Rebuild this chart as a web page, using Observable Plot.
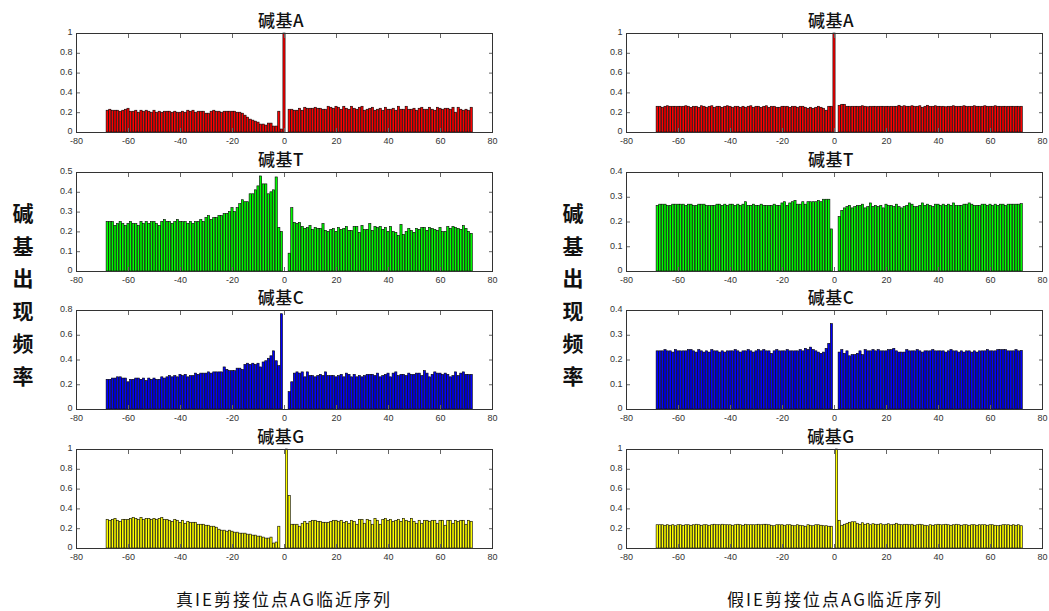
<!DOCTYPE html>
<html><head><meta charset="utf-8">
<script src="https://cdn.jsdelivr.net/npm/d3@7"></script>
<script src="https://cdn.jsdelivr.net/npm/@observablehq/plot@0.6"></script>
<style>
body{margin:0;background:#fff;}
#root{position:relative;width:1049px;height:611px;overflow:hidden;background:#fff;}
.panel{position:absolute;}
.title{position:absolute;font-family:"Noto Sans CJK SC",sans-serif;font-size:17px;font-weight:500;letter-spacing:0.5px;color:#111;transform:translate(-50%,-50%);white-space:nowrap;line-height:1;}
.ylab{position:absolute;font-family:"Noto Sans CJK SC",sans-serif;font-size:21px;font-weight:bold;color:#111;width:24px;text-align:center;line-height:32.6px;}
.xlab{position:absolute;font-family:"Noto Sans CJK SC",sans-serif;font-size:17px;letter-spacing:2px;color:#111;transform:translate(-50%,-50%);white-space:nowrap;line-height:1;}
</style></head>
<body><div id="root"></div>
<script>
// positions -68 .. 72 (one bar per position)
const positions = d3.range(-68, 73);
const xTicks = [-80,-60,-40,-20,0,20,40,60,80];
const ticks01 = [0,0.2,0.4,0.6,0.8,1];
const ticksTrueT = [0,0.1,0.2,0.3,0.4,0.5];
const ticksTrueC = [0,0.2,0.4,0.6,0.8];
const ticksFalse04 = [0,0.1,0.2,0.3,0.4];
const baseNames = ["碱基A","碱基T","碱基C","碱基G"];
const baseColors = ["#ff0000","#00ff00","#0000ff","#ffff00"];
const yLabel = "碱基出现频率";
const xLabels = ["真IE剪接位点AG临近序列","假IE剪接位点AG临近序列"];

const trueA = [
0.22,0.23,0.22,0.22,0.22,0.21,0.22,0.23,0.24,0.21,
0.21,0.22,0.20,0.22,0.21,0.22,0.21,0.20,0.22,0.20,
0.21,0.20,0.21,0.21,0.21,0.20,0.21,0.20,0.20,0.21,
0.20,0.22,0.21,0.22,0.20,0.21,0.21,0.21,0.19,0.19,
0.21,0.22,0.21,0.21,0.20,0.21,0.21,0.21,0.21,0.21,
0.20,0.20,0.19,0.17,0.15,0.13,0.12,0.11,0.10,0.08,
0.08,0.07,0.09,0.09,0.06,0.06,0.21,0.03,1.00,0.00,
0.23,0.23,0.22,0.22,0.24,0.22,0.25,0.24,0.24,0.24,
0.25,0.24,0.24,0.23,0.23,0.26,0.25,0.24,0.26,0.25,
0.23,0.26,0.24,0.23,0.26,0.24,0.23,0.25,0.26,0.22,
0.23,0.24,0.25,0.22,0.23,0.24,0.22,0.25,0.23,0.23,
0.24,0.22,0.26,0.23,0.23,0.26,0.23,0.23,0.24,0.22,
0.24,0.25,0.23,0.23,0.25,0.23,0.22,0.25,0.24,0.23,
0.24,0.24,0.23,0.25,0.20,0.25,0.23,0.22,0.23,0.22,
0.25];
const trueT = [
0.25,0.25,0.25,0.23,0.24,0.25,0.24,0.23,0.24,0.25,
0.24,0.24,0.23,0.25,0.24,0.25,0.24,0.25,0.25,0.24,
0.23,0.25,0.26,0.25,0.25,0.24,0.25,0.26,0.25,0.25,
0.25,0.24,0.25,0.24,0.25,0.25,0.26,0.25,0.27,0.28,
0.26,0.27,0.27,0.28,0.28,0.29,0.29,0.30,0.32,0.30,
0.32,0.34,0.36,0.35,0.35,0.39,0.39,0.41,0.43,0.48,
0.44,0.44,0.39,0.40,0.41,0.475,0.22,0.20,0.00,0.00,
0.09,0.32,0.245,0.24,0.245,0.225,0.215,0.22,0.23,0.21,
0.22,0.215,0.215,0.24,0.205,0.20,0.21,0.215,0.20,0.22,
0.21,0.215,0.225,0.205,0.205,0.225,0.225,0.195,0.23,0.21,
0.21,0.24,0.205,0.225,0.22,0.225,0.21,0.22,0.20,0.225,
0.20,0.195,0.18,0.235,0.185,0.20,0.215,0.205,0.195,0.215,
0.21,0.22,0.22,0.205,0.22,0.215,0.21,0.205,0.22,0.20,
0.20,0.225,0.215,0.225,0.22,0.215,0.21,0.23,0.215,0.20,
0.19];
const trueC = [
0.24,0.24,0.25,0.25,0.26,0.26,0.25,0.25,0.22,0.24,
0.24,0.25,0.25,0.24,0.25,0.23,0.25,0.24,0.25,0.24,
0.24,0.26,0.25,0.26,0.27,0.26,0.27,0.26,0.28,0.27,
0.28,0.26,0.27,0.27,0.29,0.28,0.29,0.29,0.29,0.30,
0.29,0.30,0.30,0.30,0.30,0.34,0.32,0.31,0.31,0.31,
0.33,0.33,0.32,0.36,0.37,0.36,0.37,0.36,0.37,0.34,
0.38,0.39,0.41,0.43,0.47,0.39,0.35,0.77,0.00,0.00,
0.14,0.22,0.29,0.30,0.29,0.30,0.26,0.30,0.27,0.27,
0.26,0.27,0.28,0.27,0.30,0.27,0.27,0.27,0.26,0.27,
0.28,0.26,0.29,0.28,0.26,0.28,0.26,0.27,0.26,0.27,
0.28,0.28,0.28,0.27,0.29,0.26,0.27,0.28,0.29,0.26,
0.29,0.30,0.27,0.28,0.28,0.27,0.29,0.28,0.28,0.29,
0.29,0.27,0.31,0.29,0.26,0.28,0.30,0.29,0.29,0.28,
0.29,0.28,0.26,0.27,0.30,0.27,0.29,0.30,0.28,0.28,
0.28];
const trueG = [
0.29,0.28,0.29,0.30,0.28,0.27,0.29,0.29,0.29,0.30,
0.31,0.30,0.29,0.31,0.29,0.30,0.30,0.29,0.30,0.29,
0.30,0.31,0.29,0.29,0.28,0.27,0.29,0.28,0.26,0.28,
0.25,0.27,0.26,0.26,0.26,0.24,0.24,0.24,0.23,0.23,
0.22,0.22,0.21,0.19,0.18,0.18,0.17,0.18,0.17,0.16,
0.16,0.15,0.15,0.15,0.14,0.14,0.13,0.13,0.12,0.12,
0.11,0.10,0.10,0.11,0.05,0.06,0.22,0.00,0.00,1.00,
0.53,0.24,0.24,0.24,0.22,0.25,0.27,0.25,0.27,0.28,
0.28,0.27,0.27,0.26,0.26,0.26,0.27,0.28,0.28,0.27,
0.28,0.26,0.27,0.25,0.28,0.27,0.24,0.29,0.29,0.25,
0.29,0.28,0.24,0.30,0.28,0.24,0.29,0.30,0.28,0.29,
0.27,0.28,0.29,0.27,0.30,0.28,0.27,0.30,0.27,0.25,
0.28,0.25,0.28,0.28,0.27,0.28,0.28,0.25,0.28,0.28,
0.23,0.28,0.28,0.25,0.28,0.27,0.28,0.28,0.24,0.28,
0.27];
const falseA = [
0.26,0.26,0.25,0.26,0.265,0.26,0.26,0.26,0.26,0.26,
0.26,0.265,0.26,0.25,0.26,0.26,0.25,0.265,0.26,0.25,
0.26,0.265,0.25,0.26,0.26,0.25,0.26,0.265,0.26,0.25,
0.26,0.26,0.25,0.26,0.25,0.26,0.265,0.25,0.26,0.26,
0.25,0.26,0.265,0.25,0.26,0.26,0.25,0.25,0.26,0.26,
0.26,0.25,0.26,0.26,0.25,0.26,0.26,0.25,0.24,0.25,
0.24,0.25,0.26,0.25,0.24,0.22,0.26,0.26,1.00,0.00,
0.27,0.28,0.28,0.26,0.26,0.26,0.26,0.26,0.26,0.265,
0.26,0.255,0.26,0.26,0.26,0.26,0.26,0.26,0.26,0.26,
0.26,0.26,0.26,0.27,0.26,0.265,0.26,0.26,0.265,0.26,
0.26,0.265,0.25,0.26,0.27,0.26,0.26,0.265,0.26,0.26,
0.26,0.255,0.26,0.26,0.265,0.26,0.26,0.26,0.265,0.26,
0.26,0.26,0.265,0.26,0.26,0.26,0.265,0.26,0.26,0.26,
0.265,0.26,0.26,0.26,0.26,0.26,0.26,0.26,0.26,0.26,
0.26];
const falseT = [
0.265,0.27,0.27,0.27,0.265,0.265,0.27,0.27,0.27,0.27,
0.27,0.265,0.27,0.27,0.265,0.265,0.27,0.27,0.27,0.265,
0.265,0.265,0.265,0.27,0.27,0.265,0.27,0.265,0.27,0.27,
0.265,0.27,0.265,0.27,0.28,0.265,0.265,0.27,0.265,0.265,
0.27,0.265,0.265,0.265,0.265,0.27,0.265,0.265,0.275,0.28,
0.265,0.275,0.28,0.285,0.27,0.27,0.28,0.27,0.28,0.28,
0.28,0.28,0.285,0.28,0.29,0.29,0.29,0.17,0.00,0.00,
0.22,0.245,0.255,0.26,0.265,0.255,0.26,0.265,0.265,0.27,
0.255,0.26,0.275,0.26,0.265,0.26,0.265,0.255,0.27,0.265,
0.265,0.26,0.27,0.26,0.255,0.26,0.265,0.275,0.27,0.26,
0.26,0.265,0.275,0.265,0.27,0.265,0.26,0.27,0.27,0.265,
0.27,0.265,0.27,0.265,0.275,0.265,0.265,0.265,0.27,0.27,
0.275,0.27,0.265,0.265,0.265,0.27,0.27,0.265,0.27,0.265,
0.27,0.265,0.27,0.27,0.265,0.27,0.27,0.27,0.27,0.27,
0.272];
const falseC = [
0.235,0.235,0.235,0.24,0.235,0.235,0.23,0.24,0.235,0.235,
0.235,0.235,0.24,0.24,0.235,0.23,0.24,0.235,0.23,0.235,
0.23,0.24,0.235,0.235,0.23,0.235,0.23,0.235,0.235,0.235,
0.24,0.235,0.23,0.235,0.235,0.24,0.235,0.23,0.235,0.24,
0.235,0.24,0.235,0.235,0.225,0.235,0.24,0.235,0.235,0.235,
0.24,0.235,0.235,0.235,0.235,0.24,0.235,0.245,0.24,0.25,
0.24,0.235,0.23,0.225,0.23,0.245,0.265,0.345,0.00,0.00,
0.23,0.24,0.225,0.235,0.215,0.22,0.22,0.225,0.235,0.22,
0.24,0.235,0.235,0.24,0.235,0.24,0.235,0.235,0.235,0.24,
0.24,0.245,0.235,0.23,0.23,0.23,0.24,0.235,0.235,0.235,
0.24,0.235,0.23,0.235,0.235,0.235,0.24,0.235,0.235,0.235,
0.235,0.23,0.235,0.24,0.235,0.235,0.23,0.235,0.23,0.235,
0.235,0.23,0.235,0.23,0.235,0.235,0.235,0.24,0.235,0.235,
0.235,0.24,0.24,0.24,0.24,0.235,0.235,0.235,0.24,0.235,
0.237];
const falseG = [
0.235,0.235,0.235,0.23,0.235,0.23,0.235,0.225,0.235,0.235,
0.23,0.235,0.235,0.23,0.235,0.24,0.235,0.23,0.235,0.235,
0.23,0.235,0.24,0.235,0.235,0.24,0.235,0.235,0.235,0.23,
0.235,0.24,0.235,0.23,0.24,0.235,0.235,0.235,0.235,0.24,
0.235,0.24,0.24,0.235,0.23,0.225,0.235,0.235,0.235,0.23,
0.235,0.235,0.23,0.225,0.235,0.23,0.225,0.22,0.235,0.23,
0.225,0.235,0.235,0.23,0.225,0.225,0.22,0.22,0.00,1.00,
0.28,0.23,0.24,0.25,0.26,0.265,0.265,0.25,0.24,0.255,
0.24,0.25,0.235,0.245,0.24,0.24,0.245,0.235,0.24,0.245,
0.235,0.24,0.25,0.24,0.235,0.24,0.24,0.235,0.24,0.23,
0.235,0.24,0.235,0.23,0.225,0.235,0.23,0.235,0.24,0.235,
0.235,0.24,0.235,0.23,0.235,0.24,0.235,0.23,0.235,0.235,
0.23,0.235,0.235,0.23,0.235,0.235,0.235,0.23,0.235,0.235,
0.23,0.225,0.23,0.235,0.235,0.235,0.23,0.235,0.23,0.235,
0.225];

const columns = [
  {series: [trueA, trueT, trueC, trueG], yTicks: [ticks01, ticksTrueT, ticksTrueC, ticks01]},
  {series: [falseA, falseT, falseC, falseG], yTicks: [ticks01, ticksFalse04, ticksFalse04, ticks01]}
];

const root = document.getElementById("root");
const frameLefts = [76, 626];
const frameTops = [33, 172, 310, 449];
const W = 416, H = 99, mL = 36, mR = 14, mT = 4, mB = 20;

columns.forEach((col, ci) => {
  col.series.forEach((vals, ri) => {
    const yT = col.yTicks[ri];
    const data = positions.map((p, i) => ({p, v: vals[i]})).filter(d => d.v > 0);
    const svg = Plot.plot({
      width: W + mL + mR, height: H + mT + mB,
      marginLeft: mL, marginRight: mR, marginTop: mT, marginBottom: mB,
      x: {domain: [-80, 80], label: null},
      y: {domain: [0, yT[yT.length - 1]], label: null},
      style: {fontFamily: "'Liberation Sans', Arial, sans-serif", fontSize: "9px", color: "#333", background: "transparent", overflow: "visible"},
      marks: [
        Plot.rect(data, {x1: d => d.p - 0.42, x2: d => d.p + 0.42, y1: 0, y2: "v", fill: baseColors[ri], stroke: "#000", strokeWidth: 0.6}),
        Plot.axisX(xTicks, {anchor: "bottom", tickSize: -4, tickFormat: () => "", stroke: "#666", label: null}),
        Plot.axisX(xTicks, {anchor: "top", tickSize: -4, tickFormat: () => "", stroke: "#666", label: null}),
        Plot.axisY(yT, {anchor: "left", tickSize: -4, tickFormat: () => "", stroke: "#666", label: null}),
        Plot.axisY(yT, {anchor: "right", tickSize: -4, tickFormat: () => "", stroke: "#666", label: null}),
        Plot.frame({stroke: "#333"}),
        Plot.axisX(xTicks, {anchor: "bottom", tickSize: 0, tickPadding: 5, tickFormat: d => String(d), label: null}),
        Plot.axisY(yT, {anchor: "left", tickSize: 0, tickPadding: 4, dy: -1, tickFormat: d => String(d), label: null})
      ]
    });
    svg.classList.add("panel");
    svg.style.left = (frameLefts[ci] - mL) + "px";
    svg.style.top = (frameTops[ri] - mT) + "px";
    root.appendChild(svg);
    const t = document.createElement("div");
    t.className = "title";
    t.textContent = baseNames[ri];
    t.style.left = (frameLefts[ci] + W / 2 - 3) + "px";
    t.style.top = (frameTops[ri] - 14) + "px";
    root.appendChild(t);
  });
  const yl = document.createElement("div");
  yl.className = "ylab";
  yl.innerHTML = yLabel.split("").join("<br>");
  yl.style.left = (ci === 0 ? 11 : 561) + "px";
  yl.style.top = "196px";
  root.appendChild(yl);
  const xl = document.createElement("div");
  xl.className = "xlab";
  xl.textContent = xLabels[ci];
  xl.style.left = (ci === 0 ? 284 : 835) + "px";
  xl.style.top = "598px";
  root.appendChild(xl);
});
</script>
</body></html>
